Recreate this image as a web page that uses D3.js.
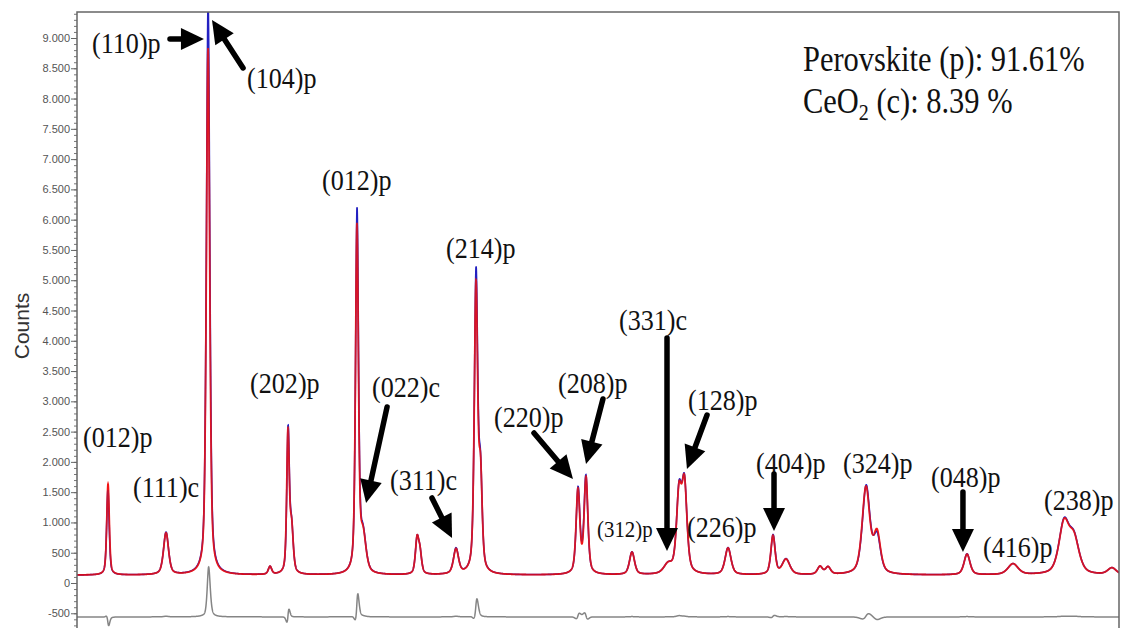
<!DOCTYPE html>
<html>
<head>
<meta charset="utf-8">
<script src="https://cdn.jsdelivr.net/npm/d3@7"></script>
<style>
  body { margin: 0; background: #fff; }
  svg { display: block; }
</style>
</head>
<body>
<svg id="chart" width="1125" height="628"></svg>
<script>
// Refined reflection list: 2θ position (deg), peak height above background (counts), FWHM (deg)
const peakPos    = [22.97, 28.52, 32.54, 38.47, 40.19, 40.53, 46.79, 47.37, 52.54, 52.82, 56.27, 58.18, 58.61,
                    67.94, 68.71, 73.11, 76.56, 77.61, 78.13, 82.30, 86.60, 87.85, 91.10, 91.87, 95.50, 96.56,
                    105.17, 109.57, 114.45, 115.41, 119.04];
const calcHeight = [1500, 690, 8700, 130, 2300, 750, 5700, 600, 560, 330, 410, 4720, 1550,
                    1380, 1580, 370, 150, 1280, 1430, 440, 640, 250, 130, 120, 1430, 650,
                    340, 180, 820, 550, 110];
const obsHeight  = [1400, 700, 9450, 130, 2330, 750, 5950, 610, 560, 330, 420, 4930, 1550,
                    1400, 1600, 375, 150, 1300, 1440, 445, 650, 255, 130, 120, 1450, 600,
                    345, 180, 830, 560, 110];
// small offsets of the observed maxima relative to the refined positions (deg)
const obsShift   = [-0.01, 0, 0.006, 0, 0.01, 0, 0.008, 0, 0, 0, 0, 0.008, 0,
                    0.01, -0.01, 0, 0, 0, 0, 0, 0.01, 0, 0, 0, 0.02, 0,
                    0, 0, 0, 0, 0];
const peakFWHM   = [0.29, 0.57, 0.38, 0.38, 0.29, 0.38, 0.33, 0.67, 0.38, 0.38, 0.57, 0.38, 0.38,
                    0.43, 0.43, 0.57, 0.96, 0.57, 0.57, 0.67, 0.48, 0.86, 0.57, 0.57, 0.86, 0.77,
                    0.67, 1.15, 1.15, 1.15, 0.96];
const background = 130;     // flat background level (counts)
const diffOffset = -560;    // vertical offset of the Yobs - Ycalc curve
const twoThetaRange = [20, 120];
const yTickValues = [-500, 0, 500, 1000, 1500, 2000, 2500, 3000, 3500, 4000, 4500,
                     5000, 5500, 6000, 6500, 7000, 7500, 8000, 8500, 9000];

// Reflection labels: text, left edge (2θ), baseline (counts)
const labelText  = ["(110)p", "(104)p", "(012)p", "(111)c", "(202)p", "(012)p", "(214)p", "(022)c", "(311)c",
                    "(220)p", "(208)p", "(312)p", "(331)c", "(128)p", "(226)p", "(404)p", "(324)p", "(048)p",
                    "(416)p", "(238)p"];
const labelX     = [21.44, 36.27, 20.57, 25.36, 36.56, 43.44, 55.31, 48.23, 49.95,
                    59.90, 66.03, 69.76, 71.87, 78.47, 78.37, 84.98, 93.30, 101.72,
                    106.70, 112.54];
const labelY     = [8752, 8174, 2246, 1420, 3138, 6490, 5367, 3072, 1536,
                    2576, 3138, 760, 4178, 2857, 760, 1817, 1817, 1585,
                    429, 1206];
const labelSize  = [30, 30, 30, 30, 30, 30, 30, 30, 30, 30, 30, 24, 30, 30, 30, 30, 30, 30, 30, 30];

// Pointer arrows: tail (2θ, counts) -> head (2θ, counts)
const arrowFromX = [28.90, 35.89, 49.67, 53.97, 63.73, 70.33, 76.46, 80.29, 86.70, 104.78];
const arrowFromY = [8984, 8505, 2906, 1404, 2477, 3039, 4046, 2774, 1800, 1503];
const arrowToX   = [32.15, 32.92, 47.66, 55.89, 67.46, 68.71, 76.46, 78.37, 86.70, 104.78];
const arrowToY   = [8984, 9297, 1321, 743, 1717, 1965, 528, 1883, 859, 512];

const svg = d3.select("#chart");
const plot = { left: 77, top: 12, right: 1119, bottom: 628 };

const x = d3.scaleLinear().domain(twoThetaRange).range([77, 1122]);
const y = d3.scaleLinear().domain([0, 9000]).range([583, 38]);

// pseudo-Voigt line shape
function pseudoVoigt(t, x0, w) {
  const u = (t - x0) / w;
  return 0.5 / (1 + 4 * u * u) + 0.5 * Math.exp(-4 * Math.LN2 * u * u);
}
function profile(heights, shifts) {
  return t => background + d3.sum(peakPos, (p, i) => heights[i] * pseudoVoigt(t, p + shifts[i], peakFWHM[i]));
}
const calcAt = profile(calcHeight, peakPos.map(() => 0));
const obsAt = profile(obsHeight, obsShift);
const grid = d3.range(twoThetaRange[0], twoThetaRange[1] + 1e-9, 0.01);
const pattern = grid.map(t => {
  const yc = calcAt(t), yo = obsAt(t);
  return { t, yc, yo, diff: yo - yc + diffOffset };
});

svg.append("rect").attr("width", 1125).attr("height", 628).attr("fill", "#fff");

svg.append("defs").append("clipPath").attr("id", "plotClip")
  .append("rect")
  .attr("x", plot.left).attr("y", plot.top)
  .attr("width", plot.right - plot.left).attr("height", plot.bottom - plot.top);

const curves = svg.append("g").attr("clip-path", "url(#plotClip)");

const lineOf = key => d3.line().x(d => x(d.t)).y(d => y(d[key]));

curves.append("path").datum(pattern)
  .attr("d", lineOf("diff"))
  .attr("fill", "none").attr("stroke", "#858585").attr("stroke-width", 1.5);

curves.append("path").datum(pattern)
  .attr("d", lineOf("yo"))
  .attr("fill", "none").attr("stroke", "#2222cc").attr("stroke-width", 1.6);

curves.append("path").datum(pattern)
  .attr("d", lineOf("yc"))
  .attr("fill", "none").attr("stroke", "#f21414").attr("stroke-width", 1.8);

curves.append("path").datum(pattern)
  .attr("d", lineOf("yo"))
  .attr("fill", "none").attr("stroke", "#2a1e9a").attr("stroke-width", 0.8)
  .attr("stroke-opacity", 0.3);

// y axis (major and minor ticks)
const fmt = d3.formatLocale({ decimal: ",", thousands: ".", grouping: [3], currency: ["", ""], minus: "-" }).format(",d");

const minor = svg.append("g")
  .attr("transform", `translate(${plot.left},0)`)
  .call(d3.axisLeft(y).tickValues(d3.range(-700, 9401, 100)).tickSize(3).tickFormat(""));
minor.select(".domain").remove();
minor.selectAll("line").attr("stroke", "#777");

const major = svg.append("g")
  .attr("transform", `translate(${plot.left},0)`)
  .call(d3.axisLeft(y).tickValues(yTickValues).tickSize(6).tickPadding(1).tickFormat(fmt));
major.select(".domain").remove();
major.selectAll("line").attr("stroke", "#666");
major.selectAll("text")
  .attr("font-family", "'Liberation Sans', Arial, sans-serif")
  .attr("font-size", 11)
  .attr("fill", "#555");

// frame
svg.append("path")
  .attr("d", `M${plot.left},${plot.bottom}V${plot.top}H${plot.right}V${plot.bottom}`)
  .attr("fill", "none").attr("stroke", "#666").attr("stroke-width", 1.5);

svg.append("text")
  .attr("transform", "translate(29,326) rotate(-90)")
  .attr("text-anchor", "middle")
  .attr("font-family", "'Liberation Sans', Arial, sans-serif")
  .attr("font-size", 21)
  .attr("fill", "#333")
  .text("Counts");

// reflection labels
const labelG = svg.append("g");
labelText.forEach((txt, i) => {
  labelG.append("text")
    .attr("transform", `translate(${x(labelX[i])},${y(labelY[i])}) scale(0.87,1)`)
    .attr("font-family", "'Liberation Serif', 'Times New Roman', serif")
    .attr("font-size", labelSize[i])
    .attr("fill", "#111")
    .text(txt);
});

// arrows
const arrowG = svg.append("g").attr("fill", "#000").attr("stroke", "#000");
arrowFromX.forEach((_, i) => {
  const x1 = x(arrowFromX[i]), y1 = y(arrowFromY[i]);
  const x2 = x(arrowToX[i]), y2 = y(arrowToY[i]);
  const len = Math.hypot(x2 - x1, y2 - y1);
  const ux = (x2 - x1) / len, uy = (y2 - y1) / len;
  const nx = -uy, ny = ux;
  const hl = 23, hw = 11;
  const bx = x2 - ux * hl, by = y2 - uy * hl;
  arrowG.append("line")
    .attr("x1", x1).attr("y1", y1).attr("x2", bx + ux * 2).attr("y2", by + uy * 2)
    .attr("stroke-width", 5.5).attr("stroke-linecap", "round");
  arrowG.append("path")
    .attr("d", `M${x2},${y2}L${bx + nx * hw},${by + ny * hw}L${bx - nx * hw},${by - ny * hw}Z`)
    .attr("stroke", "none");
});

// phase fractions
const legend = svg.append("g")
  .attr("font-family", "'Liberation Serif', 'Times New Roman', serif")
  .attr("fill", "#111");
legend.append("text")
  .attr("transform", "translate(803,71) scale(0.87,1)")
  .attr("font-size", 35)
  .text("Perovskite (p): 91.61%");
const l2 = legend.append("text")
  .attr("transform", "translate(803,113) scale(0.87,1)")
  .attr("font-size", 35);
l2.append("tspan").text("CeO");
l2.append("tspan").attr("font-size", 23).attr("dy", 7).text("2");
l2.append("tspan").attr("dy", -7).text(" (c): 8.39 %");
</script>
</body>
</html>
